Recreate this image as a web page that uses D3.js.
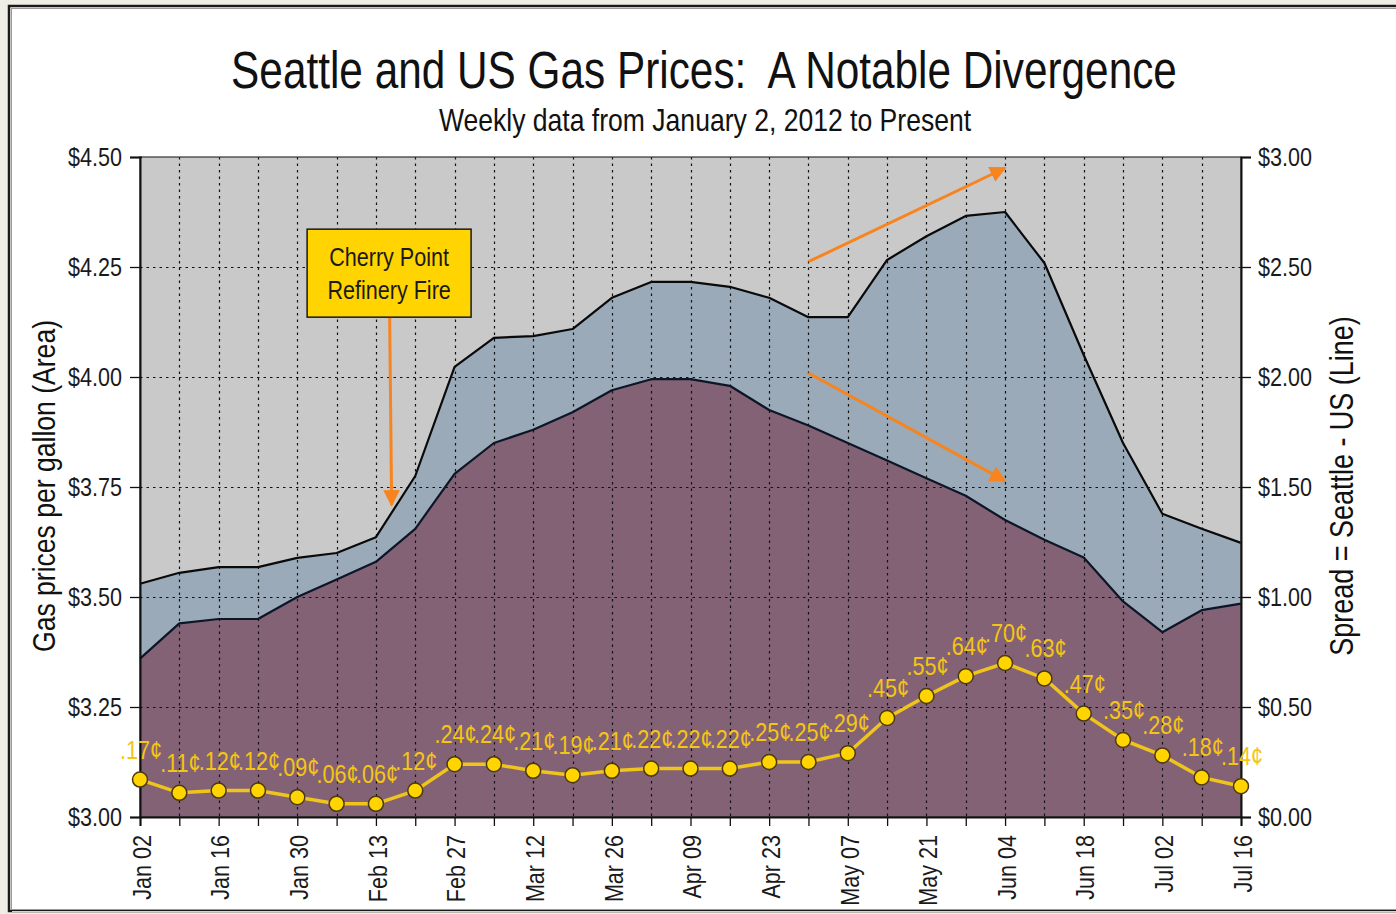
<!DOCTYPE html>
<html>
<head>
<meta charset="utf-8">
<script src="https://cdn.jsdelivr.net/npm/d3@7"></script>
<style>
  html, body { margin: 0; padding: 0; background: #efeee6; }
  svg { display: block; }
  text { font-family: "Liberation Sans", Arial, sans-serif; }
</style>
</head>
<body>
<svg id="chart" width="1396" height="914"></svg>
<script>
// Seattle vs US weekly gas prices, 2012
// Text is squeezed horizontally to stand in for Arial Narrow.

const weeks = ['Jan 02','Jan 09','Jan 16','Jan 23','Jan 30','Feb 06','Feb 13','Feb 20','Feb 27','Mar 05',
  'Mar 12','Mar 19','Mar 26','Apr 02','Apr 09','Apr 16','Apr 23','Apr 30','May 07','May 14',
  'May 21','May 28','Jun 04','Jun 11','Jun 18','Jun 25','Jul 02','Jul 09','Jul 16'];

const seattle = [3.53, 3.555, 3.568, 3.568, 3.589, 3.60, 3.636, 3.775, 4.023, 4.089,
  4.093, 4.109, 4.18, 4.216, 4.216, 4.205, 4.18, 4.136, 4.136, 4.266,
  4.32, 4.366, 4.375, 4.259, 4.05, 3.85, 3.689, 3.655, 3.623];

const us = [3.36, 3.44, 3.45, 3.45, 3.50, 3.54, 3.58, 3.655, 3.78, 3.85,
  3.88, 3.92, 3.97, 3.995, 3.995, 3.98, 3.925, 3.89, 3.85, 3.81,
  3.77, 3.73, 3.675, 3.63, 3.59, 3.49, 3.42, 3.47, 3.485];

const spread = [0.17, 0.11, 0.12, 0.12, 0.09, 0.06, 0.06, 0.12, 0.24, 0.24,
  0.21, 0.19, 0.21, 0.22, 0.22, 0.22, 0.25, 0.25, 0.29, 0.45,
  0.55, 0.64, 0.70, 0.63, 0.47, 0.35, 0.28, 0.18, 0.14];

const leftTicks = [3.00, 3.25, 3.50, 3.75, 4.00, 4.25, 4.50];
const rightTicks = [0, 0.5, 1.0, 1.5, 2.0, 2.5, 3.0];

// annotation arrows, in data units (week index, $ on left axis)
const arrows = [
  { x1: 17, y1: 4.262, x2: 22, y2: 4.475 },
  { x1: 17, y1: 4.009, x2: 22, y2: 3.764 }
];
const fire = { x0: 4.25, x1: 8.42, top: 4.336, bottom: 4.136, ax: 6.4, tip: 3.709,
  label: ['Cherry Point', 'Refinery Fire'] };

const M = { left: 140, right: 1241, top: 157, bottom: 817 };
const SQ = 0.83; // horizontal squeeze

const svg = d3.select('#chart');

// frame
svg.append('rect').attr('x', 9).attr('y', 6).attr('width', 1400).attr('height', 905)
  .attr('fill', '#fff').attr('stroke', '#1a1a1a').attr('stroke-width', 2.5);
svg.append('rect').attr('x', 11.5).attr('y', 8.5).attr('width', 1400).attr('height', 901)
  .attr('fill', 'none').attr('stroke', '#9a9a9a').attr('stroke-width', 1);
svg.append('line').attr('x1', 12).attr('x2', 1396).attr('y1', 911.5).attr('y2', 911.5)
  .attr('stroke', '#d4d4d4');

const x = d3.scaleLinear().domain([0, weeks.length - 1]).range([M.left, M.right]);
const y = d3.scaleLinear().domain([3.0, 4.5]).range([M.bottom, M.top]);
const y2 = d3.scaleLinear().domain([0, 3]).range([M.bottom, M.top]);

// plot background
svg.append('rect')
  .attr('x', M.left).attr('y', M.top)
  .attr('width', M.right - M.left).attr('height', M.bottom - M.top)
  .attr('fill', '#c9c9c9');

const idx = d3.range(weeks.length);

svg.append('path')
  .datum(idx)
  .attr('fill', '#9aaab8')
  .attr('d', d3.area().x(i => x(i)).y0(M.bottom).y1(i => y(seattle[i])));

svg.append('path')
  .datum(idx)
  .attr('fill', '#846276')
  .attr('d', d3.area().x(i => x(i)).y0(M.bottom).y1(i => y(us[i])));

// grid
const grid = svg.append('g').attr('stroke', '#111').attr('stroke-width', 1.2)
  .attr('stroke-dasharray', '2.5,4');
grid.selectAll('.vg').data(idx.slice(1, -1)).join('line')
  .attr('x1', i => Math.round(x(i)) + 0.5).attr('x2', i => Math.round(x(i)) + 0.5)
  .attr('y1', M.top).attr('y2', M.bottom);
grid.selectAll('.hg').data(leftTicks.slice(1, -1)).join('line')
  .attr('y1', d => Math.round(y(d)) + 0.5).attr('y2', d => Math.round(y(d)) + 0.5)
  .attr('x1', M.left).attr('x2', M.right);

// area outlines
svg.append('path').datum(idx)
  .attr('fill', 'none').attr('stroke', '#0a0a0a').attr('stroke-width', 2.2)
  .attr('stroke-linejoin', 'round')
  .attr('d', d3.line().x(i => x(i)).y(i => y(seattle[i])));
svg.append('path').datum(idx)
  .attr('fill', 'none').attr('stroke', '#0c1626').attr('stroke-width', 2.2)
  .attr('stroke-linejoin', 'round')
  .attr('d', d3.line().x(i => x(i)).y(i => y(us[i])));

// plot border
svg.append('rect')
  .attr('x', M.left).attr('y', M.top)
  .attr('width', M.right - M.left).attr('height', M.bottom - M.top)
  .attr('fill', 'none').attr('stroke', '#333').attr('stroke-width', 1.2);

// axes
const fmtL = d => '$' + d.toFixed(2);
const axL = svg.append('g').attr('transform', `translate(${M.left},0)`)
  .call(d3.axisLeft(y).tickValues(leftTicks).tickFormat(fmtL).tickSize(10));
const axR = svg.append('g').attr('transform', `translate(${M.right},0)`)
  .call(d3.axisRight(y2).tickValues(rightTicks).tickFormat(fmtL).tickSize(10));
const axB = svg.append('g').attr('transform', `translate(0,${M.bottom})`)
  .call(d3.axisBottom(x).tickValues(idx).tickFormat(i => i % 2 === 0 ? weeks[i] : '').tickSize(9));

[axL, axR, axB].forEach(a => {
  a.select('.domain').attr('stroke', '#111').attr('stroke-width', 2);
  a.selectAll('.tick line').attr('stroke', '#111').attr('stroke-width', 1.3);
  a.selectAll('text').attr('fill', '#1a1a1a').attr('font-size', 26)
    .attr('font-family', '"Liberation Sans", Arial, sans-serif');
});
axL.selectAll('.tick line').attr('x2', -10).attr('x1', 2);
axL.selectAll('text').attr('x', -18 / SQ).attr('transform', `scale(${SQ},1)`);
axR.selectAll('text').attr('x', 17 / SQ).attr('transform', `scale(${SQ},1)`);
axB.selectAll('text')
  .attr('transform', `rotate(-90) scale(${SQ},1)`)
  .attr('text-anchor', 'end')
  .attr('dy', null)
  .attr('y', 1).attr('x', -18 / SQ)
  .style('dominant-baseline', 'central');

// spread line
svg.append('path').datum(idx)
  .attr('fill', 'none').attr('stroke', '#efc41c').attr('stroke-width', 3.5)
  .attr('d', d3.line().x(i => x(i)).y(i => y2(spread[i])));

svg.selectAll('.dot').data(idx).join('circle')
  .attr('cx', i => x(i)).attr('cy', i => y2(spread[i])).attr('r', 7.5)
  .attr('fill', '#ffd400').attr('stroke', '#4a3a10').attr('stroke-width', 1.5);

svg.selectAll('.lbl').data(idx).join('text')
  .attr('transform', i => `translate(${x(i) + 1},${y2(spread[i]) - 21}) scale(${SQ},1)`)
  .attr('text-anchor', 'middle')
  .attr('font-size', 26).attr('fill', '#f4c515')
  .text(i => '.' + String(Math.round(spread[i] * 100)).padStart(2, '0') + '¢');

// orange arrows
const defs = svg.append('defs');
defs.append('marker').attr('id', 'ah').attr('viewBox', '0 0 10 10')
  .attr('refX', 9).attr('refY', 5).attr('markerWidth', 5.5).attr('markerHeight', 5.5)
  .attr('orient', 'auto').attr('markerUnits', 'strokeWidth')
  .append('path').attr('d', 'M0,0L10,5L0,10z').attr('fill', '#f7841e');

svg.selectAll('.arr').data(arrows).join('line')
  .attr('x1', d => x(d.x1)).attr('y1', d => y(d.y1))
  .attr('x2', d => x(d.x2)).attr('y2', d => y(d.y2))
  .attr('stroke', '#f7841e').attr('stroke-width', 3)
  .attr('marker-end', 'url(#ah)');

svg.append('line')
  .attr('x1', x(fire.ax) - 2).attr('y1', y(fire.bottom))
  .attr('x2', x(fire.ax)).attr('y2', y(fire.tip))
  .attr('stroke', '#f7841e').attr('stroke-width', 3)
  .attr('marker-end', 'url(#ah)');

svg.append('rect')
  .attr('x', x(fire.x0)).attr('y', y(fire.top))
  .attr('width', x(fire.x1) - x(fire.x0)).attr('height', y(fire.bottom) - y(fire.top))
  .attr('fill', '#ffd400').attr('stroke', '#1a1a1a').attr('stroke-width', 1.5);
const cx = (x(fire.x0) + x(fire.x1)) / 2;
svg.selectAll('.fl').data(fire.label).join('text')
  .attr('transform', (d, i) => `translate(${cx},${y(fire.top) + 37 + i * 33}) scale(${SQ},1)`)
  .attr('text-anchor', 'middle').attr('font-size', 26).attr('fill', '#1a1a1a')
  .text(d => d);

// titles
function squeezed(tx, ty, size, str, rot) {
  return svg.append('text')
    .attr('transform', `translate(${tx},${ty})${rot ? ' rotate(-90)' : ''} scale(${SQ},1)`)
    .attr('text-anchor', 'middle').attr('font-size', size).attr('fill', '#111')
    .text(str);
}
squeezed(704, 88, 51, 'Seattle and US Gas Prices:\u00a0 A Notable Divergence');
squeezed(705, 131, 32, 'Weekly data from January 2, 2012 to Present');
squeezed(55, (M.top + M.bottom) / 2 - 1, 32, 'Gas prices per gallon (Area)', true);
squeezed(1353, (M.top + M.bottom) / 2 - 1, 32.5, 'Spread = Seattle - US (Line)', true);
</script>
</body>
</html>
